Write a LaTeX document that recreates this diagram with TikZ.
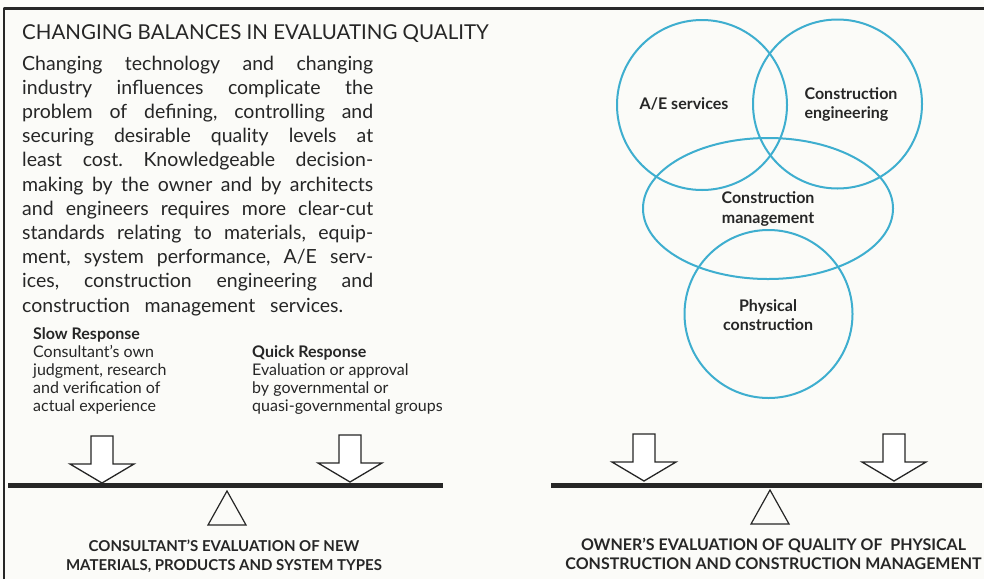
\documentclass[tikz,border=0pt]{standalone}
\usepackage{fontspec}
\setmainfont{Lato}
\usetikzlibrary{shapes.geometric}
\definecolor{venn}{RGB}{62,174,207}
\definecolor{ink}{RGB}{38,38,38}
\definecolor{paper}{RGB}{251,251,248}
\tikzset{
  pics/weight/.style={code={\draw[ink,line width=1.3pt,fill=white,line join=miter]
    (-11,-47) -- (-11,-19) -- (-32,-19) -- (0,0) -- (32,-19) -- (11,-19) -- (11,-47) -- cycle;}},
  pics/fulcrum/.style={code={\draw[ink,line width=1.2pt,line join=miter]
    (0,0) -- (-19,34) -- (19,34) -- cycle;}}
}
\frenchspacing
\begin{document}
\begin{tikzpicture}[x=1pt,y=-1pt,line join=round,
  venn/.style={draw=venn,line width=2pt,inner sep=0pt},
  vennlabel/.style={ink,font=\fontsize{16}{19.5}\selectfont\bfseries,inner sep=0pt},
  bodyline/.style={ink,font=\fontsize{19.5}{24}\selectfont,anchor=base west,inner sep=0pt},
  note/.style={ink,font=\fontsize{16}{18}\selectfont,align=left,anchor=base west,inner sep=0pt},
  capt/.style={ink,font=\fontsize{16}{19}\selectfont\bfseries,align=center,inner sep=0pt},
  beam/.style={ink,line width=5pt}]
\useasboundingbox (0,0) rectangle (984,579);
\fill[paper] (0,0) rectangle (984,579);
% frame
\draw[ink,line width=2.5pt] (4,579) -- (4,8.5) -- (984,8.5);
% heading and text
\node[ink,font=\fontsize{20.5}{24}\selectfont,anchor=base west,inner sep=0pt] (title) at (22,39.5) {CHANGING BALANCES IN EVALUATING QUALITY};
\foreach \ln [count=\i from 0] in {Changing technology and changing,
    industry influences complicate the,
    {problem of defining, controlling and},
    securing desirable quality levels at,
    least cost. Knowledgeable decision-,
    making by the owner and by architects,
    and engineers requires more clear-cut,
    {standards relating to materials, equip-},
    {ment, system performance, A/E serv-},
    {ices, construction engineering and}}
  \node[bodyline] (line\i) at (22,{70+24.2*\i}) {\makebox[351pt][s]{\ln}};
\node[bodyline] (line10) at (22,312) {\makebox[321pt][s]{construction management services.}};
% last line of each block sits on the given baseline
\node[note] (slow) at (33,411) {\textbf{Slow Response}\\Consultant’s own\\judgment, research\\and verification of\\actual experience};
\node[note] (quick) at (252,411) {\textbf{Quick Response}\\Evaluation or approval\\by governmental or\\quasi-governmental groups};
% venn diagram
\node[venn,circle,minimum size=170pt] (ae) at (702,105) {};
\node[venn,circle,minimum size=169pt] (ce) at (837.5,104) {};
\node[venn,ellipse,minimum width=250pt,minimum height=141pt] (cm) at (768,208.5) {};
\node[venn,circle,minimum size=168pt] (pc) at (768.5,314) {};
\node[vennlabel] (aelab) at (684,104) {A/E services};
\node[vennlabel,align=left] (celab) at (851,104.5) {Construction\\engineering};
\node[vennlabel,align=center] (cmlab) at (768,209) {Construction\\management};
\node[vennlabel,align=center] (pclab) at (768,315) {Physical\\construction};
% balances
\pic at (102,483) {weight};
\pic at (350,482) {weight};
\pic at (644,481) {weight};
\pic at (894,481) {weight};
\draw[beam] (8,485) -- (443,485);
\draw[beam] (551,485.5) -- (982,485.5);
\pic at (227,491) {fulcrum};
\pic at (770,490) {fulcrum};
\node[capt,font=\fontsize{15}{19}\selectfont\bfseries] (leftcap) at (224,556.5) {CONSULTANT’S EVALUATION OF NEW\\MATERIALS, PRODUCTS AND SYSTEM TYPES};
\node[capt] (rightcap) at (773.5,554) {OWNER’S EVALUATION OF QUALITY OF\ \ PHYSICAL\\CONSTRUCTION AND CONSTRUCTION MANAGEMENT};
\end{tikzpicture}
\end{document}
